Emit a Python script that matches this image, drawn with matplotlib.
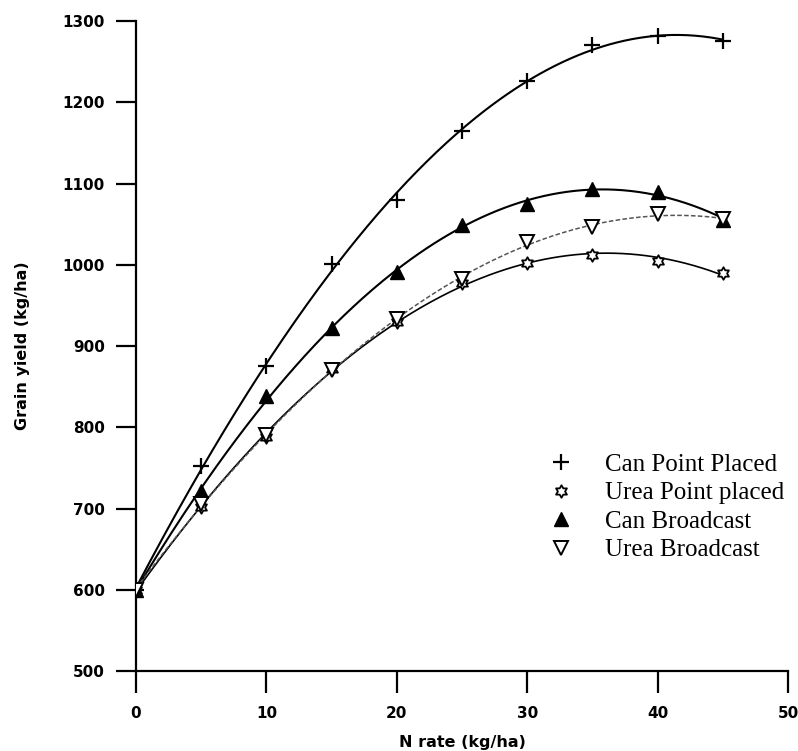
import numpy as np
import matplotlib
matplotlib.use("Agg")
import matplotlib.pyplot as plt
from matplotlib.path import Path
from matplotlib.lines import Line2D

n_rate = [0, 5, 10, 15, 20, 25, 30, 35, 40, 45]
can_point = [600, 752, 875, 1001, 1080, 1165, 1226, 1270, 1281, 1276]
urea_point = [600, 702, 788, 872, 929, 978, 1002, 1012, 1005, 990]
can_broad = [600, 722, 838, 922, 991, 1049, 1075, 1093, 1090, 1055]
urea_broad = [600, 706, 790, 870, 933, 983, 1028, 1046, 1063, 1056]

labels = ["Can Point Placed", "Urea Point placed", "Can Broadcast", "Urea Broadcast"]

# hexagram marker
ang_o = np.deg2rad(90 + 60 * np.arange(6))
ang_i = np.deg2rad(120 + 60 * np.arange(6))
r_i = 1 / np.sqrt(3)
verts = []
for a, b in zip(ang_o, ang_i):
    verts.append((np.cos(a), np.sin(a)))
    verts.append((r_i * np.cos(b), r_i * np.sin(b)))
verts.append(verts[0])
codes = [Path.MOVETO] + [Path.LINETO] * 11 + [Path.CLOSEPOLY]
hexagram = Path(verts, codes)

fig = plt.figure(figsize=(7.98, 7.51), dpi=100)
ax = fig.add_axes([0.1704, 0.1065, 0.8171, 0.8655])

x = np.array(n_rate, dtype=float)
xs = np.linspace(0, 45, 300)

mk_styles = [
    dict(marker='+', ms=11, mew=1.6, mfc='none', mec='black'),
    dict(marker=hexagram, ms=9, mew=1.3, mfc='white', mec='black'),
    dict(marker='^', ms=10, mew=1.0, mfc='black', mec='black'),
    dict(marker='v', ms=9.5, mew=1.4, mfc='white', mec='black'),
]
ln_styles = [
    dict(color='black', lw=1.5, ls='-'),
    dict(color='black', lw=1.2, ls='-'),
    dict(color='black', lw=1.5, ls='-'),
    dict(color='#555555', lw=1.1, ls=(0, (3, 1.5))),
]

for ys, mk, ln in zip([can_point, urea_point, can_broad, urea_broad], mk_styles, ln_styles):
    coef = np.polyfit(x, np.array(ys, float), 3)
    ax.plot(xs, np.polyval(coef, xs), zorder=2, **ln)
    ax.plot(x, ys, ls='none', zorder=3, **mk)

ax.set_xlim(0, 50)
ax.set_ylim(500, 1300)
ax.set_xticks([0, 10, 20, 30, 40, 50])
ax.set_yticks(range(500, 1301, 100))
for s in ['top', 'right']:
    ax.spines[s].set_visible(False)
for s in ['left', 'bottom']:
    ax.spines[s].set_linewidth(1.6)
ax.tick_params(axis='y', direction='out', length=14.4, width=1.6, pad=8, labelsize=11)
ax.tick_params(axis='x', direction='out', length=16, width=1.6, pad=9, labelsize=11)
for lab in ax.get_xticklabels() + ax.get_yticklabels():
    lab.set_fontweight('bold')
    lab.set_family('DejaVu Sans')

ax.set_xlabel("N rate (kg/ha)", fontsize=11.5, fontweight='bold', family='DejaVu Sans', labelpad=10)
ax.set_ylabel("Grain yield (kg/ha)", fontsize=11.5, fontweight='bold', family='DejaVu Sans', labelpad=23)

handles = []
for mk in mk_styles:
    handles.append(Line2D([], [], ls='none', **mk))
leg = ax.legend(handles, labels, loc='upper left', bbox_to_anchor=(0.633, 0.335), frameon=False,
                prop={'family': 'Liberation Serif', 'size': 18}, handlelength=1.0,
                handletextpad=1.26, labelspacing=0.24, borderpad=0, borderaxespad=0)

fig.savefig("out.png", dpi=100)
